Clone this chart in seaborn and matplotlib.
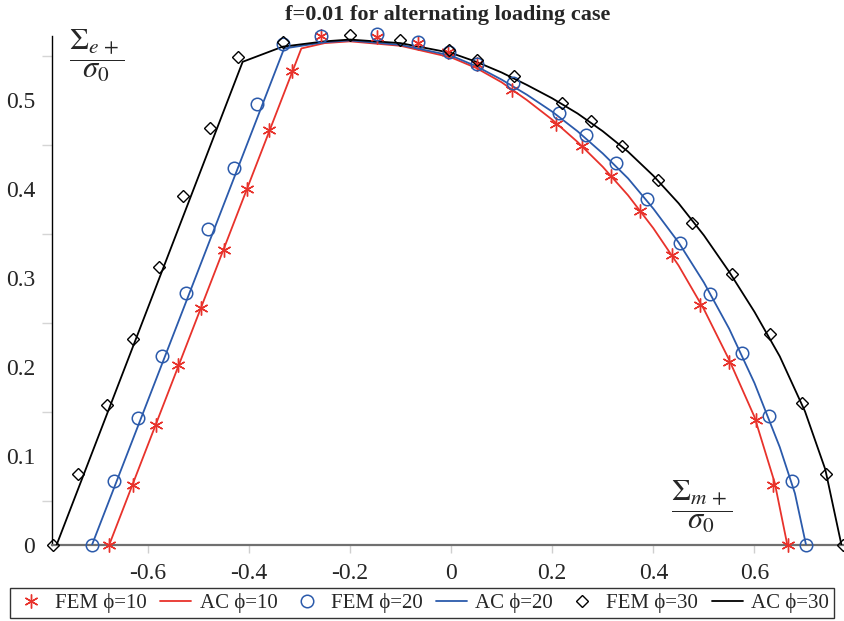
import matplotlib
matplotlib.use("Agg")
import matplotlib.pyplot as plt
import seaborn as sns
import pandas as pd
from matplotlib.ticker import FixedLocator

# ---------------- data ----------------
fem10_x = [-0.676, -0.629, -0.584, -0.539, -0.495, -0.449, -0.404, -0.359, -0.314, -0.257,
           -0.147, -0.065, -0.006, 0.051, 0.120, 0.208, 0.259, 0.316, 0.374, 0.437,
           0.493, 0.549, 0.604, 0.637, 0.667]
fem10_y = [0.0, 0.067, 0.135, 0.202, 0.266, 0.332, 0.400, 0.466, 0.533, 0.572,
           0.571, 0.564, 0.554, 0.540, 0.511, 0.473, 0.448, 0.415, 0.375, 0.326,
           0.270, 0.206, 0.140, 0.067, 0.0]

fem20_x = [-0.710, -0.666, -0.618, -0.571, -0.524, -0.480, -0.429, -0.383, -0.333, -0.257,
           -0.147, -0.065, -0.005, 0.051, 0.122, 0.214, 0.267, 0.326, 0.387, 0.453,
           0.513, 0.575, 0.628, 0.675, 0.702]
fem20_y = [0.0, 0.072, 0.143, 0.212, 0.283, 0.355, 0.424, 0.496, 0.563, 0.572,
           0.574, 0.565, 0.554, 0.541, 0.519, 0.486, 0.461, 0.429, 0.389, 0.339,
           0.282, 0.216, 0.145, 0.072, 0.0]

fem30_x = [-0.787, -0.737, -0.680, -0.629, -0.578, -0.530, -0.476, -0.422, -0.333, -0.200,
           -0.101, -0.005, 0.051, 0.125, 0.219, 0.276, 0.339, 0.410, 0.477, 0.555,
           0.630, 0.693, 0.742, 0.775]
fem30_y = [0.0, 0.080, 0.157, 0.232, 0.312, 0.392, 0.469, 0.548, 0.565, 0.573,
           0.567, 0.556, 0.545, 0.527, 0.497, 0.477, 0.448, 0.410, 0.362, 0.304,
           0.237, 0.160, 0.080, 0.0]

ac10_x = [-0.676, -0.296, -0.25, -0.20, -0.10, 0.0, 0.05, 0.10, 0.15, 0.20, 0.25, 0.30,
          0.35, 0.40, 0.45, 0.50, 0.55, 0.60, 0.64, 0.665]
ac10_y = [0.0, 0.558, 0.564, 0.566, 0.561, 0.548, 0.536, 0.520, 0.500, 0.478, 0.453, 0.425,
          0.393, 0.356, 0.314, 0.265, 0.208, 0.144, 0.070, 0.0]

ac20_x = [-0.710, -0.330, -0.25, -0.20, -0.10, 0.0, 0.05, 0.10, 0.15, 0.20, 0.25, 0.30,
          0.35, 0.40, 0.45, 0.50, 0.55, 0.60, 0.65, 0.68, 0.702]
ac20_y = [0.0, 0.558, 0.565, 0.567, 0.562, 0.550, 0.538, 0.523, 0.506, 0.487, 0.465, 0.440,
          0.412, 0.378, 0.340, 0.295, 0.243, 0.182, 0.110, 0.058, 0.0]

ac30_x = [-0.780, -0.412, -0.333, -0.25, -0.20, -0.10, 0.0, 0.05, 0.10, 0.15, 0.20, 0.25,
          0.30, 0.35, 0.40, 0.45, 0.50, 0.55, 0.60, 0.65, 0.70, 0.74, 0.772]
ac30_y = [0.0, 0.543, 0.560, 0.566, 0.568, 0.564, 0.553, 0.543, 0.531, 0.517, 0.502, 0.485,
          0.465, 0.442, 0.415, 0.384, 0.348, 0.307, 0.262, 0.212, 0.150, 0.085, 0.0]

x_ticks = [-0.6, -0.4, -0.2, 0.0, 0.2, 0.4, 0.6]
x_ticklabels = ["-0.6", "-0.4", "-0.2", "0", "0.2", "0.4", "0.6"]
y_ticks = [0.0, 0.1, 0.2, 0.3, 0.4, 0.5]
y_ticklabels = ["0", "0.1", "0.2", "0.3", "0.4", "0.5"]
y_minor = [0.05, 0.15, 0.25, 0.35, 0.45, 0.55]

labels = ["FEM ϕ=10", "AC ϕ=10", "FEM ϕ=20", "AC ϕ=20", "FEM ϕ=30", "AC ϕ=30"]

RED = "#e8322b"
BLUE = "#2b5aab"
BLACK = "#000000"

# ---------------- style ----------------
sns.set_theme(style="white")
plt.rcParams["font.family"] = ["Liberation Serif", "DejaVu Serif"]
plt.rcParams["mathtext.fontset"] = "stix"
plt.rcParams["axes.unicode_minus"] = False

fig = plt.figure(figsize=(8.45, 6.21), dpi=100)
ax = fig.add_axes([52 / 845, 76 / 621, 793 / 845, 509 / 621])

common = dict(ax=ax, estimator=None, sort=False, legend=False)

sns.lineplot(x=fem10_x, y=fem10_y, color=RED, linestyle="", marker=(6, 2, 0),
             markersize=10, markeredgewidth=1.0, markeredgecolor=RED,
             label=labels[0], clip_on=False, zorder=4, **common)
sns.lineplot(x=ac10_x, y=ac10_y, color=RED, linewidth=1.3, label=labels[1],
             zorder=3, **common)
sns.lineplot(x=fem20_x, y=fem20_y, color=BLUE, linestyle="", marker="o",
             markersize=9, markeredgewidth=1.1, markerfacecolor="none",
             markeredgecolor=BLUE, label=labels[2], clip_on=False, zorder=4, **common)
sns.lineplot(x=ac20_x, y=ac20_y, color=BLUE, linewidth=1.3, label=labels[3],
             zorder=3, **common)
sns.lineplot(x=fem30_x, y=fem30_y, color=BLACK, linestyle="", marker="D",
             markersize=6, markeredgewidth=1.0, markerfacecolor="none",
             markeredgecolor=BLACK, label=labels[4], clip_on=False, zorder=4, **common)
sns.lineplot(x=ac30_x, y=ac30_y, color=BLACK, linewidth=1.3, label=labels[5],
             zorder=3, **common)

ax.set_xlim(-0.789, 0.779)
ax.set_ylim(0.0, 0.572)
ax.set_xlabel("")
ax.set_ylabel("")

for s in ["top", "right"]:
    ax.spines[s].set_visible(False)
ax.spines["left"].set_color("black")
ax.spines["left"].set_linewidth(1.0)
ax.spines["bottom"].set_color("#707070")
ax.spines["bottom"].set_linewidth(1.6)

ax.set_xticks(x_ticks)
ax.set_xticklabels(x_ticklabels)
ax.set_yticks(y_ticks)
ax.set_yticklabels(y_ticklabels)
ax.yaxis.set_minor_locator(FixedLocator(y_minor))

ax.tick_params(axis="x", which="major", direction="out", length=6, width=1,
               color="#cfcfcf", pad=7, labelsize=17, bottom=True)
ax.tick_params(axis="y", which="major", length=0, pad=12, labelsize=17, left=True)
ax.tick_params(axis="y", which="minor", direction="out", length=7, width=1,
               color="#d5d5d5", left=True)

# axis labels (fractions)
fig.text(97 / 845, 1 - 56 / 621, r"$\dfrac{\Sigma_{e\,+}}{\sigma_0}$",
         ha="center", va="center", fontsize=22)
fig.text(702 / 845, 1 - 507 / 621, r"$\dfrac{\Sigma_{m\,+}}{\sigma_0}$",
         ha="center", va="center", fontsize=22)

fig.text(448 / 845, 1 - 15 / 621, "f=0.01 for alternating loading case",
         ha="center", va="center", fontsize=16, fontweight="bold")

handles, labs = ax.get_legend_handles_labels()
leg = fig.legend(handles, labs, loc="lower left", bbox_to_anchor=(10 / 845, 3 / 621),
                 ncol=6, frameon=True, fancybox=False, fontsize=15,
                 handlelength=1.5, handletextpad=0.4, columnspacing=0.65,
                 borderpad=0.25, borderaxespad=0.0)
leg.get_frame().set_edgecolor("black")
leg.get_frame().set_linewidth(1.0)

fig.savefig("out.png", dpi=100)
